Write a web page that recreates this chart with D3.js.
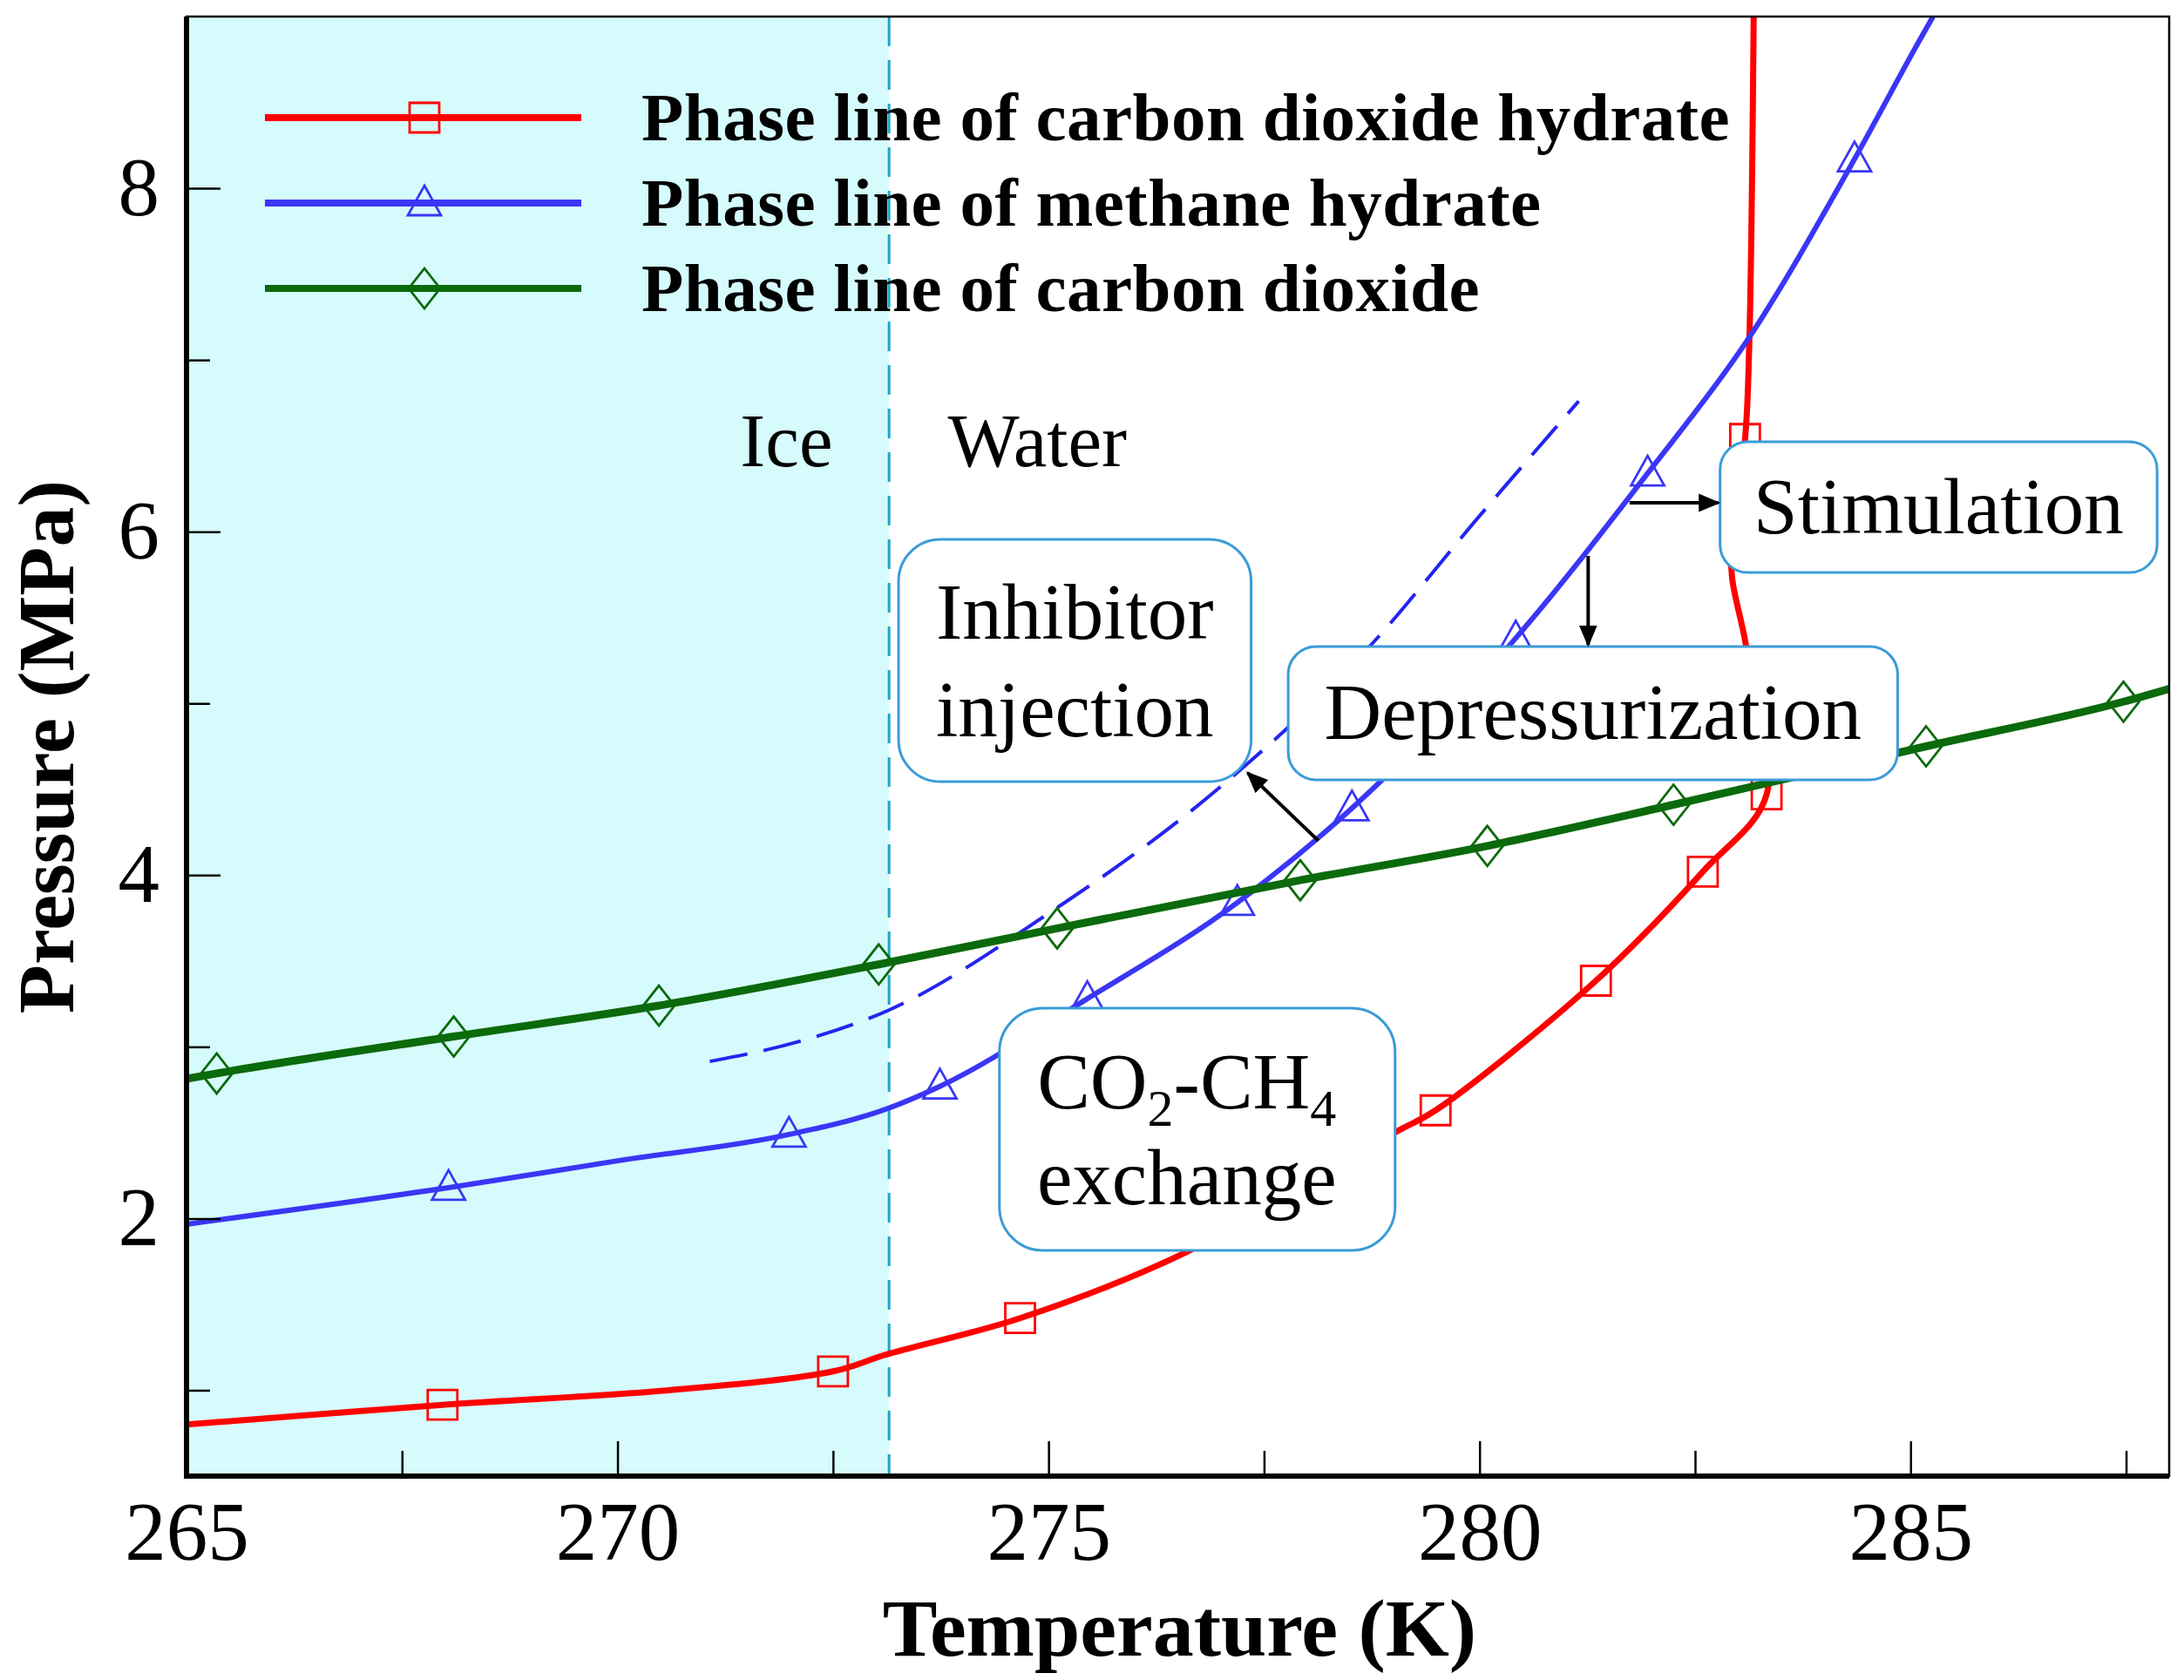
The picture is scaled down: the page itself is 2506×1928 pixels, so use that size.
<!DOCTYPE html>
<html>
<head>
<meta charset="utf-8">
<script src="https://cdn.jsdelivr.net/npm/d3@7"></script>
<style>
  body { margin: 0; background: #fff; }
  text { font-family: "Liberation Serif", "Times New Roman", serif; }
</style>
</head>
<body>
<div id="chart"></div>
<script>
// phase lines: temperature (K) / pressure (MPa)
const co2HydrateT = [265.0, 267.97, 270.59, 272.5, 273.13, 274.67, 276.58, 279.05, 279.49, 281.35, 282.59, 283.33, 283.09, 282.93, 282.92, 283.08, 283.13, 283.18];
const co2HydrateP = [0.80, 0.915, 1.0, 1.11, 1.21, 1.42, 1.80, 2.51, 2.63, 3.385, 4.02, 4.47, 5.34, 5.73, 5.95, 6.54, 7.12, 9.0];
const co2HydrateMarkT = [267.97, 272.5, 274.67, 279.49, 281.35, 282.59, 283.33, 283.08];
const co2HydrateMarkP = [0.915, 1.11, 1.42, 2.63, 3.385, 4.02, 4.47, 6.54];

const ch4HydrateT = [265.0, 268.04, 270.05, 271.99, 273.13, 273.74, 275.45, 277.19, 278.52, 280.42, 281.95, 283.1, 284.35, 285.08, 285.26];
const ch4HydrateP = [1.967, 2.18, 2.34, 2.49, 2.64, 2.77, 3.28, 3.84, 4.39, 5.38, 6.34, 7.11, 8.17, 8.84, 9.0];
const ch4HydrateMarkT = [268.04, 271.99, 273.74, 275.45, 277.19, 278.52, 280.42, 281.95, 284.35];
const ch4HydrateMarkP = [2.18, 2.49, 2.77, 3.28, 3.84, 4.39, 5.38, 6.34, 8.17];

const co2T = [265.0, 265.35, 268.1, 270.48, 273.03, 275.1, 277.92, 280.09, 282.25, 285.18, 287.47, 288.0];
const co2P = [2.814, 2.845, 3.06, 3.24, 3.48, 3.69, 3.97, 4.17, 4.41, 4.75, 5.01, 5.085];
const co2MarkT = co2T.slice(1, -1);
const co2MarkP = co2P.slice(1, -1);

// hydrate line shifted by inhibitor (dashed)
const inhibitorT = [271.07, 272.1, 273.13, 274.98, 276.96, 278.74, 279.98, 281.15];
const inhibitorP = [2.915, 3.03, 3.21, 3.77, 4.50, 5.34, 6.08, 6.76];

const iceT = 273.15;

const xTicks = [265, 270, 275, 280, 285];
const xMinor = [267.5, 272.5, 277.5, 282.5, 287.5];
const yTicks = [2, 4, 6, 8];
const yMinor = [1, 3, 5, 7];

const legendLabels = [
  "Phase line of carbon dioxide hydrate",
  "Phase line of methane hydrate",
  "Phase line of carbon dioxide",
];

const width = 2506, height = 1928;
const plot = { left: 214, right: 2489, top: 19, bottom: 1694 };
const serif = '"Liberation Serif", "Times New Roman", serif';

const svg = d3.select("#chart").append("svg")
  .attr("width", width).attr("height", height);

const x = d3.scaleLinear().domain([265, 288]).range([plot.left, plot.right]);
const y = d3.scaleLinear().domain([0.5, 9]).range([plot.bottom, plot.top]);

const zip = (a, b) => a.map((v, i) => [v, b[i]]);

const defs = svg.append("defs");
defs.append("clipPath").attr("id", "clip")
  .append("rect")
  .attr("x", plot.left).attr("y", plot.top)
  .attr("width", plot.right - plot.left).attr("height", plot.bottom - plot.top);

defs.append("marker")
  .attr("id", "arrow")
  .attr("viewBox", "0 0 10 10")
  .attr("refX", 9).attr("refY", 5)
  .attr("markerUnits", "userSpaceOnUse")
  .attr("markerWidth", 25).attr("markerHeight", 25)
  .attr("orient", "auto")
  .append("path").attr("d", "M0,0.8L10,5L0,9.2z").attr("fill", "#000");

// ice region
svg.append("rect")
  .attr("x", x(265)).attr("y", y(9))
  .attr("width", x(iceT) - x(265)).attr("height", y(0.5) - y(9))
  .attr("fill", "#d6fbfc");
svg.append("line")
  .attr("x1", x(iceT)).attr("x2", x(iceT))
  .attr("y1", y(9)).attr("y2", y(0.5))
  .attr("stroke", "#1aa6c8").attr("stroke-width", 3)
  .attr("stroke-dasharray", "34,16");

const smooth = d3.line()
  .x((d) => x(d[0]))
  .y((d) => y(d[1]))
  .curve(d3.curveMonotoneX);
// red line folds back in temperature near the top
const folded = d3.line()
  .x((d) => x(d[0]))
  .y((d) => y(d[1]))
  .curve(d3.curveCatmullRom.alpha(0.5));

const series = [
  { label: legendLabels[0], color: "#ff0000", width: 7, shape: "square", line: folded,
    pts: zip(co2HydrateT, co2HydrateP), marks: zip(co2HydrateMarkT, co2HydrateMarkP) },
  { label: legendLabels[1], color: "#3a36f6", width: 6, shape: "triangle", line: smooth,
    pts: zip(ch4HydrateT, ch4HydrateP), marks: zip(ch4HydrateMarkT, ch4HydrateMarkP) },
  { label: legendLabels[2], color: "#0b6a0b", width: 9, shape: "diamond", line: smooth,
    pts: zip(co2T, co2P), marks: zip(co2MarkT, co2MarkP) },
];

function shapePath(shape, cx, cy) {
  if (shape === "square") {
    return `M${cx - 17},${cy - 17}h34v34h-34z`;
  } else if (shape === "triangle") {
    return `M${cx},${cy - 20}L${cx + 19},${cy + 14}L${cx - 19},${cy + 14}z`;
  }
  return `M${cx},${cy - 23}L${cx + 18},${cy}L${cx},${cy + 23}L${cx - 18},${cy}z`;
}

const curves = svg.append("g").attr("clip-path", "url(#clip)");

curves.append("path")
  .datum(zip(inhibitorT, inhibitorP))
  .attr("d", smooth)
  .attr("fill", "none")
  .attr("stroke", "#2424f0")
  .attr("stroke-width", 4)
  .attr("stroke-dasharray", "44,19");

series.forEach((s) => {
  curves.append("path")
    .datum(s.pts)
    .attr("d", s.line)
    .attr("fill", "none")
    .attr("stroke", s.color)
    .attr("stroke-width", s.width);
  curves.selectAll(null)
    .data(s.marks)
    .enter()
    .append("path")
    .attr("d", (d) => shapePath(s.shape, x(d[0]), y(d[1])))
    .attr("fill", "none")
    .attr("stroke", s.color)
    .attr("stroke-width", 2.8);
});

// legend
const legend = svg.append("g");
series.forEach((s, i) => {
  const ly = 135 + i * 98;
  legend.append("line")
    .attr("x1", 304).attr("x2", 667).attr("y1", ly).attr("y2", ly)
    .attr("stroke", s.color).attr("stroke-width", 8);
  legend.append("path")
    .attr("d", shapePath(s.shape, 487, ly))
    .attr("fill", "none").attr("stroke", s.color).attr("stroke-width", 2.8);
  legend.append("text")
    .attr("x", 736).attr("y", ly + 26)
    .attr("font-size", 79).attr("font-weight", "bold")
    .attr("letter-spacing", 0.5)
    .text(s.label);
});

// region labels
svg.append("text").attr("x", x(271.96)).attr("y", y(6.38))
  .attr("text-anchor", "middle").attr("font-size", 87).text("Ice");
svg.append("text").attr("x", x(274.87)).attr("y", y(6.38))
  .attr("text-anchor", "middle").attr("font-size", 87).text("Water");

// method boxes, corners in data units
const boxes = [
  { t0: 282.79, t1: 287.86, p0: 6.524, p1: 5.762, r: 32, lines: [["Stimulation"]], base: [105] },
  { t0: 273.26, t1: 277.35, p0: 5.955, p1: 4.544, r: 48, lines: [["Inhibitor"], ["injection"]], base: [114, 226] },
  { t0: 277.78, t1: 284.85, p0: 5.331, p1: 4.555, r: 32, lines: [["Depressurization"]], base: [106] },
  { t0: 274.43, t1: 279.02, p0: 3.225, p1: 1.814, r: 50,
    lines: [["CO", "2", "-CH", "4"], ["exchange"]], base: [115, 225], dx: -12 },
];

boxes.forEach((b) => {
  const bx = x(b.t0), by = y(b.p0);
  const bw = x(b.t1) - bx, bh = y(b.p1) - by;
  svg.append("rect")
    .attr("x", bx).attr("y", by).attr("width", bw).attr("height", bh)
    .attr("rx", b.r).attr("ry", b.r)
    .attr("fill", "#fff").attr("stroke", "#3b9bd8").attr("stroke-width", 3);
  b.lines.forEach((parts, i) => {
    const t = svg.append("text")
      .attr("x", bx + bw / 2 + (b.dx || 0)).attr("y", by + b.base[i])
      .attr("text-anchor", "middle").attr("font-size", 91);
    parts.forEach((p, j) => {
      const sub = j % 2 === 1;
      t.append("tspan")
        .attr("font-size", sub ? 60 : 91)
        .attr("dy", sub ? 20 : (j > 0 ? -20 : 0))
        .text(p);
    });
  });
});

// arrows
const arrows = [
  [[281.74, 6.168], [282.77, 6.168]],
  [[281.26, 5.859], [281.26, 5.341]],
  [[278.13, 4.20], [277.31, 4.595]],
];
svg.selectAll(".arrow")
  .data(arrows)
  .enter()
  .append("line")
  .attr("class", "arrow")
  .attr("x1", (d) => x(d[0][0])).attr("y1", (d) => y(d[0][1]))
  .attr("x2", (d) => x(d[1][0])).attr("y2", (d) => y(d[1][1]))
  .attr("stroke", "#000").attr("stroke-width", 4)
  .attr("marker-end", "url(#arrow)");

// axes, ticks point inward
function styleAxis(g) {
  g.select(".domain").remove();
  g.attr("font-family", serif).attr("font-size", 95);
  g.selectAll(".tick line").attr("stroke-width", 2.5);
  g.selectAll(".tick text").attr("fill", "#000");
}

svg.append("g")
  .attr("transform", `translate(0,${plot.bottom})`)
  .call(d3.axisBottom(x).tickValues(xTicks).tickSize(-40).tickPadding(29).tickFormat(d3.format("d")))
  .call(styleAxis);
svg.append("g")
  .attr("transform", `translate(0,${plot.bottom})`)
  .call(d3.axisBottom(x).tickValues(xMinor).tickSize(-29).tickFormat(""))
  .call(styleAxis);
svg.append("g")
  .attr("transform", `translate(${plot.left},0)`)
  .call(d3.axisLeft(y).tickValues(yTicks).tickSize(-39).tickPadding(31).tickFormat(d3.format("d")))
  .call(styleAxis);
svg.append("g")
  .attr("transform", `translate(${plot.left},0)`)
  .call(d3.axisLeft(y).tickValues(yMinor).tickSize(-27).tickFormat(""))
  .call(styleAxis);

// frame
svg.append("rect")
  .attr("x", plot.left).attr("y", plot.top)
  .attr("width", plot.right - plot.left).attr("height", plot.bottom - plot.top)
  .attr("fill", "none").attr("stroke", "#000").attr("stroke-width", 2.5);
svg.append("path")
  .attr("d", `M${plot.left},${plot.top}V${plot.bottom}H${plot.right}`)
  .attr("fill", "none").attr("stroke", "#000").attr("stroke-width", 6);

// axis titles
svg.append("text")
  .attr("x", (plot.left + plot.right) / 2 + 2).attr("y", 1900)
  .attr("text-anchor", "middle").attr("font-size", 94).attr("font-weight", "bold")
  .text("Temperature (K)");
svg.append("text")
  .attr("transform", `translate(84,857) rotate(-90)`)
  .attr("text-anchor", "middle").attr("font-size", 92).attr("font-weight", "bold")
  .text("Pressure (MPa)");
</script>
</body>
</html>
